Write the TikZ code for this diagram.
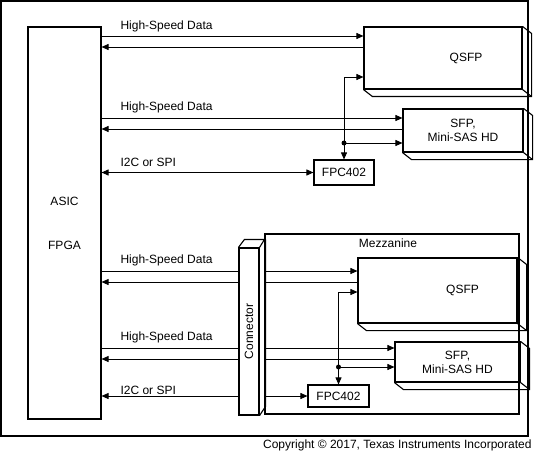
\documentclass[tikz,border=0pt]{standalone}
\usepackage{fontspec}
\setmainfont{Liberation Sans}
\usetikzlibrary{calc,arrows.meta}
\newcommand{\drawdepth}[1]{%
  \draw[line width=1.1pt] (#1.north east) -- ++(9,7) |- ($(#1.south west)+(9,7)$) -- (#1.south west);
  \draw[line width=1.1pt] (#1.south east) -- ++(9,7);}

\begin{document}
\begin{tikzpicture}[x=1pt,y=-1pt,>={Triangle[length=7pt,width=6pt]},
    every node/.style={font=\fontsize{12}{14}\selectfont},
    blk/.style={draw,line width=1.1pt,inner sep=0pt},
    sig/.style={line width=0.8pt}]
      \useasboundingbox (0,0) rectangle (534,457);
      \draw[line width=1.2pt] (1,1) rectangle (528,436);
      \node[blk,minimum width=73,minimum height=392,align=center] (asic) at (64.5,223) {ASIC\\[30pt]FPGA};
      \node[blk,minimum width=158,minimum height=62,label={[xshift=23pt]center:QSFP}] (qsfpA) at (443,58) {};
      \node[blk,minimum width=120,minimum height=43,align=center] (sfpA) at (463,130.5) {SFP,\\Mini-SAS HD};
      \node[blk,minimum width=60,minimum height=25] (fpcA) at (344,172.5) {FPC402};
      \drawdepth{qsfpA}
      \drawdepth{sfpA}
      \node[blk,minimum width=254,minimum height=180,label={[anchor=north,xshift=-4pt,yshift=-2pt]north:Mezzanine}] (mezz) at (392,324) {};
      \node[blk,minimum width=20,minimum height=167,label={[rotate=90]center:Connector}] (conn) at (249,331.5) {};
      \draw[blk] (conn.north west) -- ++(6,-8) -- ++(20,0) -- (conn.north east) ++(6,-8) -- ++(0,167) -- (conn.south east);
      \node[blk,minimum width=159,minimum height=65,label={[xshift=25pt]center:QSFP}] (qsfpB) at (437.5,290.5) {};
      \node[blk,minimum width=125,minimum height=40,align=center] (sfpB) at (457.5,362) {SFP,\\Mini-SAS HD};
      \node[blk,minimum width=61,minimum height=22] (fpcB) at (338.5,396) {FPC402};
      \drawdepth{qsfpB}
      \drawdepth{sfpB}
      % upper links
      \draw[sig,->] (asic.east |- 0,36) -- (qsfpA.west |- 0,36);
      \draw[sig,<-] (asic.east |- 0,47) -- (qsfpA.west |- 0,47);
      \draw[sig,->] (asic.east |- 0,118) -- (sfpA.west |- 0,118);
      \draw[sig,<-] (asic.east |- 0,129) -- (sfpA.west |- 0,129);
      \draw[sig,<->] (asic.east |- fpcA.west) -- (fpcA.west);
      \draw[sig,<->] (fpcA.north) |- (qsfpA.west |- 0,77);
      \draw[sig,->] (fpcA.north |- 0,143) -- (sfpA.west |- 0,143);
      \fill (fpcA.north |- 0,143) circle (2.5pt);
      % lower links
      \draw[sig] (asic.east |- 0,271) -- (conn.west |- 0,271);
      \draw[sig,->] (mezz.west |- 0,271) -- (qsfpB.west |- 0,271);
      \draw[sig,<-] (asic.east |- 0,282) -- (conn.west |- 0,282);
      \draw[sig] (mezz.west |- 0,282) -- (qsfpB.west |- 0,282);
      \draw[sig] (asic.east |- 0,348) -- (conn.west |- 0,348);
      \draw[sig,->] (mezz.west |- 0,348) -- (sfpB.west |- 0,348);
      \draw[sig,<-] (asic.east |- 0,359) -- (conn.west |- 0,359);
      \draw[sig] (mezz.west |- 0,359) -- (sfpB.west |- 0,359);
      \draw[sig,<-] (asic.east |- fpcB.west) -- (conn.west |- fpcB.west);
      \draw[sig,->] (mezz.west |- fpcB.west) -- (fpcB.west);
      \draw[sig,<->] (fpcB.north) |- (qsfpB.west |- 0,292);
      \draw[sig,->] (fpcB.north |- 0,367) -- (sfpB.west |- 0,367);
      \fill (fpcB.north |- 0,367) circle (2.5pt);
      % labels
      \node[anchor=base west] (hsdA) at (117,30) {High-Speed Data};
      \node[anchor=base west] (hsdB) at (117,110.5) {High-Speed Data};
      \node[anchor=base west] (busA) at (117,166.5) {I2C or SPI};
      \node[anchor=base west] (hsdC) at (117,263.5) {High-Speed Data};
      \node[anchor=base west] (hsdD) at (117,340.5) {High-Speed Data};
      \node[anchor=base west] (busB) at (117,394) {I2C or SPI};
      \node[anchor=base east] (copy) at (535,448.5) {Copyright \textcopyright{} 2017, Texas Instruments Incorporated};
\end{tikzpicture}
\end{document}
